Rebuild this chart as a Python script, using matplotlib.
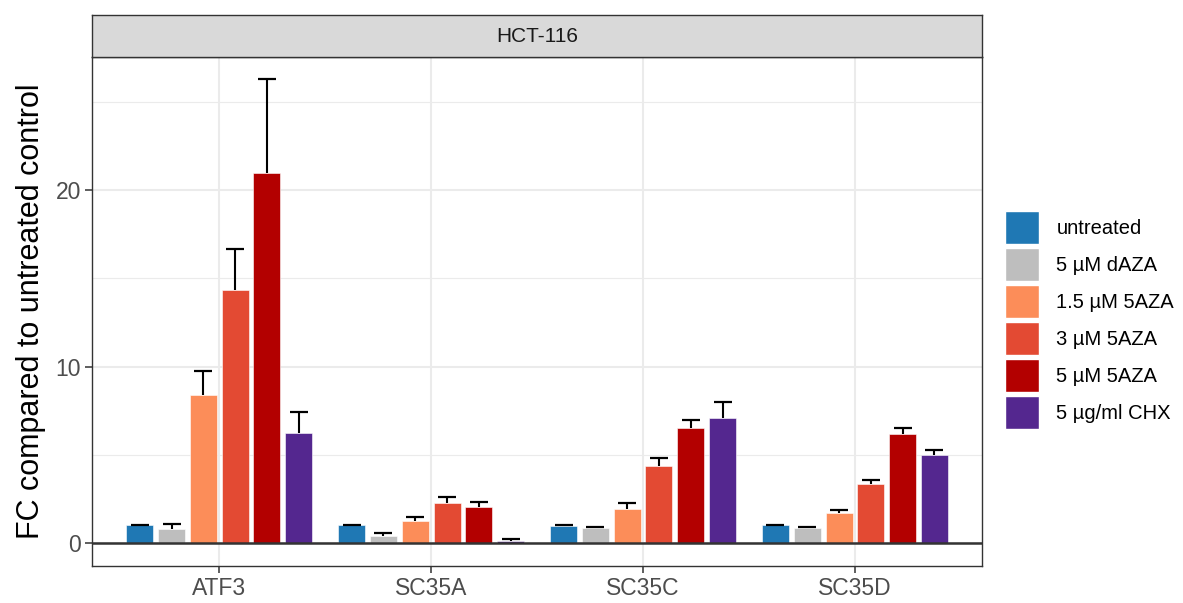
import matplotlib
matplotlib.use("Agg")
import matplotlib.pyplot as plt
from matplotlib.patches import Patch
import numpy as np

plt.rcParams['font.family'] = ['Liberation Sans', 'DejaVu Sans']

genes = ["ATF3", "SC35A", "SC35C", "SC35D"]
treatments = ["untreated", "5 µM dAZA", "1.5 µM 5AZA", "3 µM 5AZA", "5 µM 5AZA", "5 µg/ml CHX"]
colors = ["#1F78B4", "#BEBEBE", "#FC8D59", "#E34A33", "#B30000", "#54278F"]

# mean fold change per treatment (rows) x gene (cols)
means = [
    [1.00, 1.00, 0.98, 1.00],
    [0.78, 0.42, 0.85, 0.87],
    [8.40, 1.25, 1.93, 1.68],
    [14.33, 2.25, 4.38, 3.34],
    [21.00, 2.02, 6.50, 6.19],
    [6.23, 0.11, 7.07, 4.99],
]
# upper error (sd)
errs = [
    [0.05, 0.03, 0.04, 0.03],
    [0.30, 0.16, 0.07, 0.05],
    [1.35, 0.25, 0.34, 0.19],
    [2.33, 0.34, 0.42, 0.25],
    [5.30, 0.32, 0.45, 0.33],
    [1.19, 0.11, 0.90, 0.28],
]

fig = plt.figure(figsize=(11.83, 6.03), dpi=100)
ax = fig.add_axes([0.0778, 0.0614, 0.7524, 0.8441])

x = np.arange(len(genes))
n = len(treatments)
slot = 0.9 / n
for i, (t, c) in enumerate(zip(treatments, colors)):
    pos = x - 0.45 + slot * (i + 0.5)
    top = np.array(means[i]) + np.array(errs[i])
    ax.bar(pos, means[i], width=slot * 0.85, color=c, edgecolor="white",
           linewidth=0.4, zorder=3)
    # upper-only error bar: stem + top cap
    ax.vlines(pos, means[i], top, color="black", linewidth=1.5, zorder=2)
    ax.scatter(pos, top, marker="_", s=180, color="black", linewidths=1.6, zorder=4)

ax.axhline(0, color="#333333", linewidth=1.8, zorder=5)

ax.set_xlim(-0.6, len(genes) - 0.4)
ax.set_ylim(-1.3, 27.55)
ax.set_xticks(x)
ax.set_xticklabels(genes)
ax.set_yticks([0, 10, 20])
ax.set_yticks([5, 15, 25], minor=True)
ax.grid(True, which="major", color="#EBEBEB", linewidth=1.5, zorder=0)
ax.grid(True, which="minor", axis="y", color="#EBEBEB", linewidth=0.8, zorder=0)
ax.set_axisbelow(True)
ax.tick_params(axis="both", which="major", labelsize=16.5, labelcolor="#4D4D4D",
               color="#333333", length=5, width=1.1, pad=3)
ax.tick_params(axis="y", which="minor", length=0)
for s in ax.spines.values():
    s.set_color("#333333")
    s.set_linewidth(1.0)
ax.set_ylabel("FC compared to untreated control", fontsize=22, labelpad=7)

# facet strip
sax = fig.add_axes([0.0778, 0.9055, 0.7524, 0.0695])
sax.set_facecolor("#D9D9D9")
sax.set_xticks([])
sax.set_yticks([])
for s in sax.spines.values():
    s.set_color("#333333")
    s.set_linewidth(1.0)
sax.text(0.5, 0.5, "HCT-116", ha="center", va="center", fontsize=15, color="#1A1A1A")

handles = [Patch(facecolor=c, edgecolor="white", label=t) for t, c in zip(treatments, colors)]
fig.legend(handles=handles, loc="center left", bbox_to_anchor=(0.841, 0.469),
           frameon=False, fontsize=14.5, handlelength=1.7, handleheight=2.15,
           labelspacing=0.2, handletextpad=0.85, borderpad=0)

fig.savefig("out.png", dpi=100)
